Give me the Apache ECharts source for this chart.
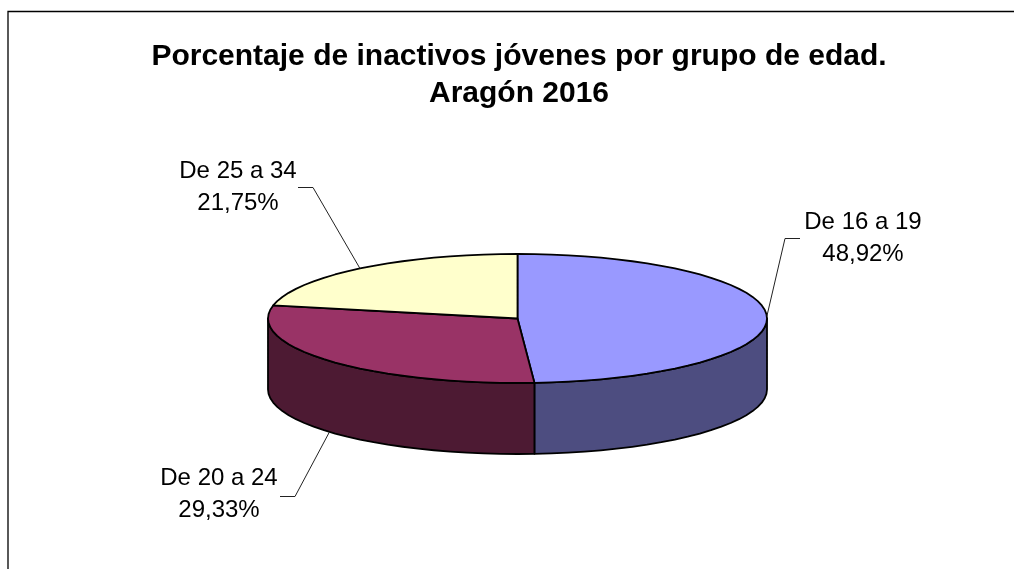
<!DOCTYPE html>
<html><head><meta charset="utf-8">
<style>html,body{margin:0;padding:0;background:#fff}#c{width:1014px;height:569px}</style>
<script src="https://cdn.jsdelivr.net/npm/echarts@6/dist/echarts.min.js"></script>
</head><body><div id="c"></div>
<script>
const titleText = 'Porcentaje de inactivos jóvenes por grupo de edad.\nAragón 2016';
const categories = ['De 16 a 19', 'De 20 a 24', 'De 25 a 34'];
const values = [48.92, 29.33, 21.75];
const topColors = ['#9999FF', '#993366', '#FFFFCC'];
const sideColors = ['#4D4D80', '#4D1A33', '#80805F'];

const pie = {cx: 517.5, cy: 318.5, rx: 249.5, ry: 64.5, depth: 71};
// label placement relative to the slice's rim anchor
const labelLayout = [
  {elbowX: 785, elbowY: 238, endX: 800, textX: 863, textY: 238},
  {elbowX: 295, elbowY: 496, endX: 280, textX: 219, textY: 494},
  {elbowX: 313, elbowY: 187, endX: 298, textX: 238, textY: 187}
];
const total = values.reduce((a, b) => a + b, 0);
const fmt = v => v.toFixed(2).replace('.', ',') + '%';
const rim = (deg, dy) => {
  const r = deg * Math.PI / 180;
  return [pie.cx + pie.rx * Math.sin(r), pie.cy - pie.ry * Math.cos(r) + (dy || 0)];
};
const arc = (a, b, dy) => {
  const pts = [];
  const n = Math.max(2, Math.ceil(Math.abs(b - a) / 4));
  for (let i = 0; i <= n; i++) pts.push(rim(a + (b - a) * i / n, dy));
  return pts;
};
const LINE = {stroke: '#000', lineWidth: 1.8, lineJoin: 'round'};

function renderSlice(params, api) {
  const i = params.dataIndex;
  const before = values.slice(0, i).reduce((a, b) => a + b, 0);
  const a0 = before / total * 360;
  const a1 = (before + api.value(0)) / total * 360;
  const mid = (a0 + a1) / 2;
  const kids = [];
  // visible wall: rim from 90deg to 270deg
  const s0 = Math.max(a0, 90), s1 = Math.min(a1, 270);
  if (s1 > s0) {
    const wall = arc(s0, s1, 0).concat(arc(s1, s0, pie.depth));
    kids.push({type: 'polygon', z2: 1, shape: {points: wall},
      style: Object.assign({fill: sideColors[i]}, LINE)});
  }
  const top = [[pie.cx, pie.cy]].concat(arc(a0, a1, 0));
  kids.push({type: 'polygon', z2: 2, shape: {points: top},
    style: Object.assign({fill: topColors[i]}, LINE)});
  // leader line anchored on the rim at the slice's mid-angle
  const onWall = mid > 90 && mid < 270;
  const anchor = rim(mid, onWall ? pie.depth : 0);
  const L = labelLayout[i];
  kids.push({type: 'polyline', z2: 3, shape: {points: [anchor, [L.elbowX, L.elbowY + .5], [L.endX, L.elbowY + .5]]},
    style: {stroke: '#222', lineWidth: 1, fill: null}});
  kids.push({type: 'text', z2: 4, style: {
    text: categories[i] + '\n' + fmt(api.value(0)),
    x: L.textX, y: L.textY, align: 'center', verticalAlign: 'middle',
    font: '24px "Liberation Sans"', lineHeight: 32, fill: '#000'}});
  return {type: 'group', children: kids};
}

const chart = echarts.init(document.getElementById('c'), null, {renderer: 'canvas'});
chart.setOption({
  animation: false,
  backgroundColor: '#fff',
  title: {
    text: titleText, left: 514, top: 33, textAlign: 'center',
    textStyle: {fontFamily: 'Liberation Sans', fontWeight: 'bold', fontSize: 30, lineHeight: 37, color: '#000'}
  },
  graphic: [{type: 'polyline', silent: true,
    shape: {points: [[8, 569], [8, 11.5], [1014, 11.5]]},
    style: {stroke: '#000', lineWidth: 1.3, fill: null}}],
  series: [{
    type: 'custom', coordinateSystem: 'none', silent: true,
    data: values.map((v, i) => ({name: categories[i], value: [v]})),
    renderItem: renderSlice
  }]
});
</script></body></html>
